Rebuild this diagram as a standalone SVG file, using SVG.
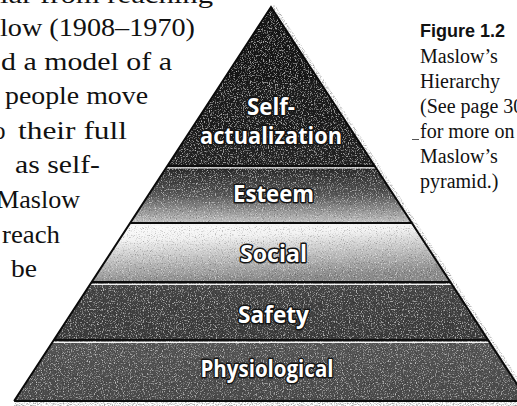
<svg xmlns="http://www.w3.org/2000/svg" width="517" height="406" viewBox="0 0 517 406">
  <style>
    .body { font-family: "Liberation Serif", "Times New Roman", serif; font-size: 25px; fill: #111; }
    .cap { font-family: "Liberation Serif", "Times New Roman", serif; font-size: 20px; fill: #111; }
    .fig { font-family: "Liberation Sans", Arial, sans-serif; font-size: 18px; font-weight: 700; fill: #111; }
    .lbl { font-family: "Open Sans", "DejaVu Sans", sans-serif; font-size: 23px; font-weight: 700; fill: #fff;
           stroke: #141414; stroke-width: 3; stroke-linejoin: round; paint-order: stroke; text-anchor: middle; }
    .band { filter: url(#grain); }
    .rule-dark { stroke: #0d0d0d; stroke-width: 2.2; }
    .rule-light { stroke: #f4f4f4; stroke-width: 1.3; }
    .edge { fill: none; stroke: #0a0a0a; stroke-width: 2; stroke-linejoin: miter; }
  </style>
  <defs>
    <!-- halftone-like speckle laid over each band -->
    <filter id="grain" x="-5%" y="-5%" width="110%" height="110%">
      <feTurbulence type="fractalNoise" baseFrequency="0.85" numOctaves="2" seed="4" result="noise"/>
      <feColorMatrix in="noise" type="matrix" values="0 0 0 0 1  0 0 0 0 1  0 0 0 0 1  3.6 0 0 0 -1.95" result="lite"/>
      <feColorMatrix in="noise" type="matrix" values="0 0 0 0 0  0 0 0 0 0  0 0 0 0 0  0 -3.6 0 0 1.65" result="dark"/>
      <feMerge result="spk"><feMergeNode in="lite"/><feMergeNode in="dark"/></feMerge>
      <feComposite in="spk" in2="SourceAlpha" operator="in" result="clipped"/>
      <feComponentTransfer in="clipped" result="soft"><feFuncA type="linear" slope="0.5"/></feComponentTransfer>
      <feMerge><feMergeNode in="SourceGraphic"/><feMergeNode in="soft"/></feMerge>
    </filter>
    <filter id="fuzz" x="-20%" y="-5%" width="140%" height="110%">
      <feTurbulence type="fractalNoise" baseFrequency="0.9" numOctaves="1" seed="11" result="n"/>
      <feColorMatrix in="n" type="matrix" values="0 0 0 0 0.35  0 0 0 0 0.35  0 0 0 0 0.35  3 0 0 0 -1.3" result="dots"/>
      <feComposite in="dots" in2="SourceAlpha" operator="in"/>
    </filter>
    <linearGradient id="gSelf" x1="0" y1="0" x2="0" y2="1">
      <stop offset="0" stop-color="#121212"/>
      <stop offset="1" stop-color="#222222"/>
    </linearGradient>
    <linearGradient id="gEsteem" x1="0" y1="0" x2="0" y2="1">
      <stop offset="0" stop-color="#262626"/>
      <stop offset="0.5" stop-color="#555555"/>
      <stop offset="1" stop-color="#c4c4c4"/>
    </linearGradient>
    <linearGradient id="gSocial" x1="0" y1="0" x2="0.25" y2="1">
      <stop offset="0" stop-color="#ffffff"/>
      <stop offset="0.3" stop-color="#f2f2f2"/>
      <stop offset="1" stop-color="#8a8a8a"/>
    </linearGradient>
    <linearGradient id="gSafety" x1="0" y1="0" x2="0" y2="1">
      <stop offset="0" stop-color="#464646"/>
      <stop offset="1" stop-color="#3a3a3a"/>
    </linearGradient>
    <linearGradient id="gPhys" x1="0" y1="0" x2="0" y2="1">
      <stop offset="0" stop-color="#555555"/>
      <stop offset="1" stop-color="#4a4a4a"/>
    </linearGradient>
  </defs>

  <rect width="517" height="406" fill="#ffffff"/>

  <!-- running text beside the figure -->
  <g id="body-text">
    <text class="body" x="0" y="3" textLength="213" lengthAdjust="spacingAndGlyphs">lar from reaching</text>
    <text class="body" x="0" y="36" textLength="195" lengthAdjust="spacingAndGlyphs">low (1908–1970)</text>
    <text class="body" x="1" y="70" textLength="171" lengthAdjust="spacingAndGlyphs">d a model of a</text>
    <text class="body" x="5" y="104" textLength="143" lengthAdjust="spacingAndGlyphs">people move</text>
    <text class="body" x="-7" y="139">o</text>
    <text class="body" x="18" y="139" textLength="109" lengthAdjust="spacingAndGlyphs">their full</text>
    <text class="body" x="15" y="173" textLength="85" lengthAdjust="spacingAndGlyphs">as self-</text>
    <text class="body" x="-4" y="208" textLength="84" lengthAdjust="spacingAndGlyphs">Maslow</text>
    <text class="body" x="2" y="243" textLength="58" lengthAdjust="spacingAndGlyphs">reach</text>
    <text class="body" x="11" y="277" textLength="26" lengthAdjust="spacingAndGlyphs">be</text>
  </g>

  <!-- figure caption -->
  <g id="caption">
    <text class="fig" x="420" y="37">Figure 1.2</text>
    <text class="cap" x="420" y="63">Maslow’s</text>
    <text class="cap" x="420" y="88">Hierarchy</text>
    <text class="cap" x="420" y="113">(See page 30</text>
    <line x1="412" y1="139.5" x2="419" y2="139.5" stroke="#555" stroke-width="1"/>
    <text class="cap" x="420" y="138">for more on</text>
    <text class="cap" x="420" y="163">Maslow’s</text>
    <text class="cap" x="420" y="188">pyramid.)</text>
  </g>

  <!-- pyramid: apex (271,7), sides run at 0.652 px across per px down -->
  <g id="pyramid">
    <!-- speckled shadow along the right side and under the base -->
    <polygon points="271,7 275,5 533,401 526,404" fill="#888" filter="url(#fuzz)"/>
    <rect x="14" y="402" width="503" height="4" fill="#8a8a8a" filter="url(#fuzz)"/>

    <g id="level-physiological">
      <polygon class="band" points="53.9,340 488.1,340 527.9,401 14.1,401" fill="url(#gPhys)"/>
      <text class="lbl" x="267" y="377" textLength="133" lengthAdjust="spacingAndGlyphs">Physiological</text>
    </g>
    <g id="level-safety">
      <polygon class="band" points="91.7,282 450.3,282 488.1,340 53.9,340" fill="url(#gSafety)"/>
      <text class="lbl" x="273.5" y="323" textLength="71" lengthAdjust="spacingAndGlyphs">Safety</text>
    </g>
    <g id="level-social">
      <polygon class="band" points="130.2,223 411.8,223 450.3,282 91.7,282" fill="url(#gSocial)"/>
      <text class="lbl" x="273.5" y="262" textLength="67" lengthAdjust="spacingAndGlyphs">Social</text>
    </g>
    <g id="level-esteem">
      <polygon class="band" points="167.3,166 374.7,166 411.8,223 130.2,223" fill="url(#gEsteem)"/>
      <text class="lbl" x="273.5" y="202" textLength="81" lengthAdjust="spacingAndGlyphs">Esteem</text>
    </g>
    <g id="level-self-actualization">
      <polygon class="band" points="271,7 374.7,166 167.3,166" fill="url(#gSelf)"/>
      <text class="lbl" x="271" y="115" textLength="48" lengthAdjust="spacingAndGlyphs">Self-</text>
      <text class="lbl" x="271" y="144" textLength="142" lengthAdjust="spacingAndGlyphs">actualization</text>
    </g>

    <!-- level dividers: dark rule with a light rule just beneath -->
    <g id="dividers">
      <line class="rule-dark" x1="167.3" y1="166" x2="374.7" y2="166"/>
      <line class="rule-light" x1="166" y1="167.8" x2="376" y2="167.8"/>
      <line class="rule-dark" x1="130.2" y1="223" x2="411.8" y2="223"/>
      <line class="rule-light" x1="129" y1="225" x2="413" y2="225"/>
      <line class="rule-dark" x1="91.7" y1="282" x2="450.3" y2="282"/>
      <line class="rule-light" x1="90" y1="284.3" x2="452" y2="284.3"/>
      <line class="rule-dark" x1="53.9" y1="340" x2="488.1" y2="340"/>
      <line class="rule-light" x1="52" y1="342.3" x2="490" y2="342.3"/>
      <line class="rule-dark" x1="14.1" y1="401" x2="517" y2="401"/>
    </g>
    <polyline class="edge" points="14.1,401 271,7 527.9,401"/>
  </g>
</svg>
